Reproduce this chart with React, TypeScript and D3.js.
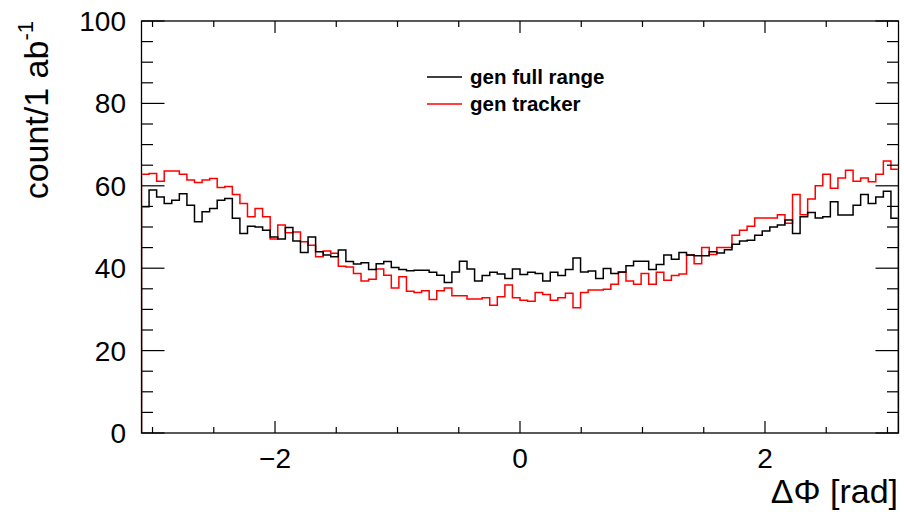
import React from "react";
import * as d3 from "d3";

const xMin = -3.09;
const xMax = 3.09;
const nBins = 100;

const genFullRange = [
  54.9, 59.0, 57.3, 55.7, 56.5, 58.1, 55.3, 51.3, 53.7, 54.5,
  56.5, 56.9, 52.1, 48.4, 50.2, 50.0, 49.2, 47.6, 47.1, 49.9,
  46.6, 43.8, 47.6, 44.0, 43.2, 42.8, 44.4, 41.6, 41.0, 41.3,
  39.7, 41.1, 41.6, 40.2, 39.7, 39.4, 39.5, 39.5, 39.0, 38.3,
  36.5, 39.1, 41.7, 39.8, 36.9, 38.2, 39.0, 38.6, 37.5, 39.8,
  38.5, 39.0, 38.7, 36.9, 39.0, 38.2, 39.7, 42.5, 39.1, 39.3,
  37.5, 39.9, 38.7, 39.1, 40.6, 41.7, 41.7, 39.7, 40.9, 43.2,
  42.2, 43.8, 43.2, 43.0, 43.0, 44.0, 43.7, 44.5, 45.8, 46.6,
  46.8, 48.0, 49.0, 50.0, 50.5, 51.7, 48.4, 52.5, 53.5, 52.2,
  52.5, 56.1, 52.9, 52.9, 55.3, 57.9, 55.7, 57.3, 58.7, 52.1,
];

const genTracker = [
  62.8, 63.0, 61.1, 63.6, 63.6, 62.8, 61.4, 60.8, 61.4, 61.8,
  59.6, 59.8, 57.9, 55.7, 52.5, 54.5, 52.5, 47.1, 50.5, 48.6,
  48.8, 46.4, 45.6, 42.8, 44.2, 43.6, 40.5, 40.3, 38.7, 36.9,
  37.3, 39.8, 38.3, 35.2, 37.9, 34.4, 34.1, 34.5, 32.4, 34.5,
  35.2, 33.3, 33.3, 32.5, 32.5, 32.8, 31.0, 33.1, 35.9, 32.8,
  32.2, 32.0, 34.1, 33.6, 32.2, 32.8, 33.9, 30.4, 34.1, 34.7,
  34.7, 34.9, 36.1, 39.0, 36.9, 36.1, 38.7, 36.1, 39.0, 37.1,
  38.2, 38.6, 43.2, 41.1, 45.0, 43.3, 45.0, 45.0, 48.0, 49.2,
  50.2, 52.2, 52.2, 52.2, 53.0, 50.9, 57.9, 53.0, 56.8, 60.0,
  62.8, 59.4, 61.9, 63.8, 61.1, 61.9, 61.0, 62.8, 66.0, 64.0,
];

const yMajorTicks = [0, 20, 40, 60, 80, 100];
const yMinorTicks = d3.range(0, 101, 5);
const xMajorTicks = [-2, 0, 2];
const xMinorTicks = [-3, -2.5, -2, -1.5, -1, -0.5, 0, 0.5, 1, 1.5, 2, 2.5, 3];
const legendLabels = ["gen full range", "gen tracker"];
const colors = ["#000000", "#ff0000"];

const W = 904;
const H = 512;
const L = 141.5;
const R = 898.5;
const T = 21;
const B = 433;

const x = d3.scaleLinear().domain([xMin, xMax]).range([L, R]);
const y = d3.scaleLinear().domain([0, 100]).range([B, T]);

function stepPath(vals: number[]): string {
  const w = (xMax - xMin) / nBins;
  const p = d3.path();
  p.moveTo(x(xMin), y(0));
  vals.forEach((v, i) => {
    const x0 = x(xMin + i * w);
    const x1 = x(xMin + (i + 1) * w);
    p.lineTo(x0, y(v));
    p.lineTo(x1, y(v));
  });
  p.lineTo(x(xMax), y(0));
  return p.toString();
}

const fmt = (v: number) => (v < 0 ? "\u2212" + Math.abs(v) : String(v));

export default function App() {
  const font = "'Liberation Sans', Arial, Helvetica, sans-serif";
  return (
    <svg width={W} height={H} style={{ display: "block", position: "absolute", left: 0, top: 0 }} fontFamily={font}>
      <defs>
        <clipPath id="plotclip">
          <rect x={L + 0.7} y={T} width={R - L - 1.4} height={B - T - 0.7} />
        </clipPath>
      </defs>
      <rect x={0} y={0} width={W} height={H} fill="#fff" />
      <g clipPath="url(#plotclip)">
        <path d={stepPath(genTracker)} fill="none" stroke={colors[1]} strokeWidth={1.5} />
        <path d={stepPath(genFullRange)} fill="none" stroke={colors[0]} strokeWidth={1.5} />
      </g>
      {/* frame */}
      <rect x={L} y={T} width={R - L} height={B - T} fill="none" stroke="#000" strokeWidth={1.3} />
      {/* y ticks */}
      {yMinorTicks.map((t) => {
        const len = yMajorTicks.includes(t) ? 23 : 11.5;
        return (
          <g key={"y" + t}>
            <line x1={L} x2={L + len} y1={y(t)} y2={y(t)} stroke="#000" strokeWidth={1.2} />
            <line x1={R} x2={R - len} y1={y(t)} y2={y(t)} stroke="#000" strokeWidth={1.2} />
          </g>
        );
      })}
      {/* x ticks */}
      {xMinorTicks.map((t) => {
        const len = xMajorTicks.includes(t) ? 12 : 6;
        return (
          <g key={"x" + t}>
            <line x1={x(t)} x2={x(t)} y1={B} y2={B - len} stroke="#000" strokeWidth={1.2} />
            <line x1={x(t)} x2={x(t)} y1={T} y2={T + len} stroke="#000" strokeWidth={1.2} />
          </g>
        );
      })}
      {/* y labels */}
      {yMajorTicks.map((t) => (
        <text key={"yl" + t} x={126} y={y(t) + 10} textAnchor="end" fontSize={28} fill="#000">
          {t}
        </text>
      ))}
      {/* x labels */}
      {xMajorTicks.map((t) => (
        <text key={"xl" + t} x={x(t)} y={468} textAnchor="middle" fontSize={28} fill="#000">
          {fmt(t)}
        </text>
      ))}
      {/* axis titles */}
      <text x={898} y={503} textAnchor="end" fontSize={34} fill="#000">
        {"\u0394\u03A6 [rad]"}
      </text>
      <text transform="translate(48,21) rotate(-90)" textAnchor="end" fontSize={34} fill="#000">
        count/1 ab<tspan fontSize={22} dy={-15}>-1</tspan>
      </text>
      {/* legend */}
      {legendLabels.map((lab, i) => (
        <g key={lab}>
          <line x1={427} x2={462} y1={77 + i * 27} y2={77 + i * 27} stroke={colors[i]} strokeWidth={1.5} />
          <text x={470} y={84 + i * 27} fontSize={20.5} fontWeight="bold" fill="#000">
            {lab}
          </text>
        </g>
      ))}
    </svg>
  );
}
